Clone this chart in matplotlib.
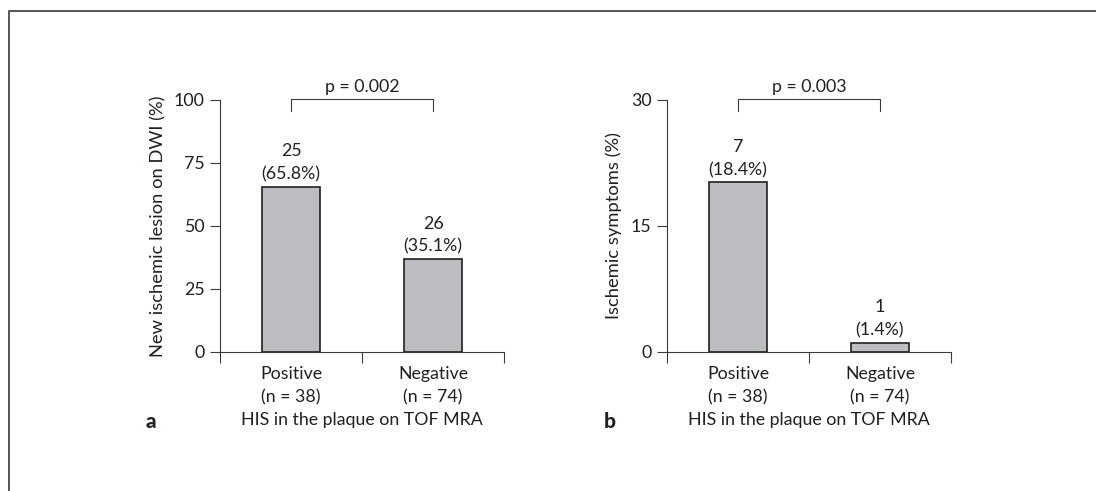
import matplotlib
matplotlib.use("Agg")
import matplotlib.pyplot as plt
from matplotlib.lines import Line2D

# data
groups = ["Positive\n(n = 38)", "Negative\n(n = 74)"]
dwi_counts = [25, 26]
dwi_pct = [65.8, 35.1]
dwi_bar = [65.6, 36.9]      # bar heights as drawn
sym_counts = [7, 1]
sym_pct = [18.4, 1.4]
sym_bar = [20.2, 1.1]       # bar heights as drawn
p_values = ["p = 0.002", "p = 0.003"]

txt = "#231f20"
plt.rcParams["font.family"] = ["Lato", "DejaVu Sans"]
plt.rcParams["font.size"] = 12.75
plt.rcParams["text.color"] = txt
plt.rcParams["axes.labelcolor"] = txt
plt.rcParams["xtick.color"] = "#3a3a3a"
plt.rcParams["ytick.color"] = "#3a3a3a"
plt.rcParams["xtick.labelcolor"] = txt
plt.rcParams["ytick.labelcolor"] = txt

fig = plt.figure(figsize=(10.96, 4.91), dpi=100)
W, H = 1096, 491


def panel(left, heights, counts, pcts, ymax, yticks, ylabel, label_x, ptxt, letter, letter_x):
    ax = fig.add_axes([left / W, 1 - 352 / H, 284 / W, 252 / H])
    x = [0, 1]
    ax.bar(x, heights, width=0.41, color="#bcbdc0", edgecolor=txt, linewidth=1.2, zorder=3)
    for xi, h, c, p in zip(x, heights, counts, pcts):
        ax.annotate("%d\n(%.1f%%)" % (c, p), (xi, h), xytext=(0, 3), textcoords="offset points",
                    ha="center", va="bottom", linespacing=1.55)
    ax.set_xlim(-0.5, 1.5)
    ax.set_ylim(0, ymax)
    ax.set_yticks(yticks)
    ax.set_xticks(x)
    ax.set_xticklabels(groups, linespacing=1.55)
    ax.set_xticks([-0.5, 0.5, 1.5], minor=True)
    ax.tick_params(axis="x", which="major", length=0, pad=10)
    ax.tick_params(axis="x", which="minor", length=8, width=0.8, direction="out")
    ax.tick_params(axis="y", length=7, width=0.8, direction="out", pad=4)
    for s in ["top", "right"]:
        ax.spines[s].set_visible(False)
    for s in ["left", "bottom"]:
        ax.spines[s].set_linewidth(0.8)
        ax.spines[s].set_color("#3a3a3a")
    ax.set_ylabel(ylabel, va="center", fontsize=13.2)
    ax.yaxis.set_label_coords((label_x - left) / 284, 0.5)
    ax.set_xlabel("HIS in the plaque on TOF MRA", labelpad=5)
    # significance bracket
    top = ymax * 1.004
    leg = ymax * (1 - 11 / 252)
    ax.plot([0, 0, 1, 1], [leg, top, top, leg], color="#3a3a3a", lw=0.8, clip_on=False)
    ax.annotate(ptxt, (0.5, top), xytext=(0, 3), textcoords="offset points",
                ha="center", va="bottom", annotation_clip=False)
    fig.text(letter_x / W, 1 - 421 / H, letter, ha="center", va="center",
             fontweight="black", fontsize=15)
    return ax


panel(220, dwi_bar, dwi_counts, dwi_pct, 100, [0, 25, 50, 75, 100],
      "New ischemic lesion on DWI (%)", 158, p_values[0], "a", 151)
panel(667, sym_bar, sym_counts, sym_pct, 30, [0, 15, 30],
      "Ischemic symptoms (%)", 614, p_values[1], "b", 610)

# outer frame (top and left edges)
fig.add_artist(Line2D([9 / W, 9 / W, 1], [0, 1 - 11 / H, 1 - 11 / H], color="#555555", lw=1.4))

fig.savefig("out.png", dpi=100)
